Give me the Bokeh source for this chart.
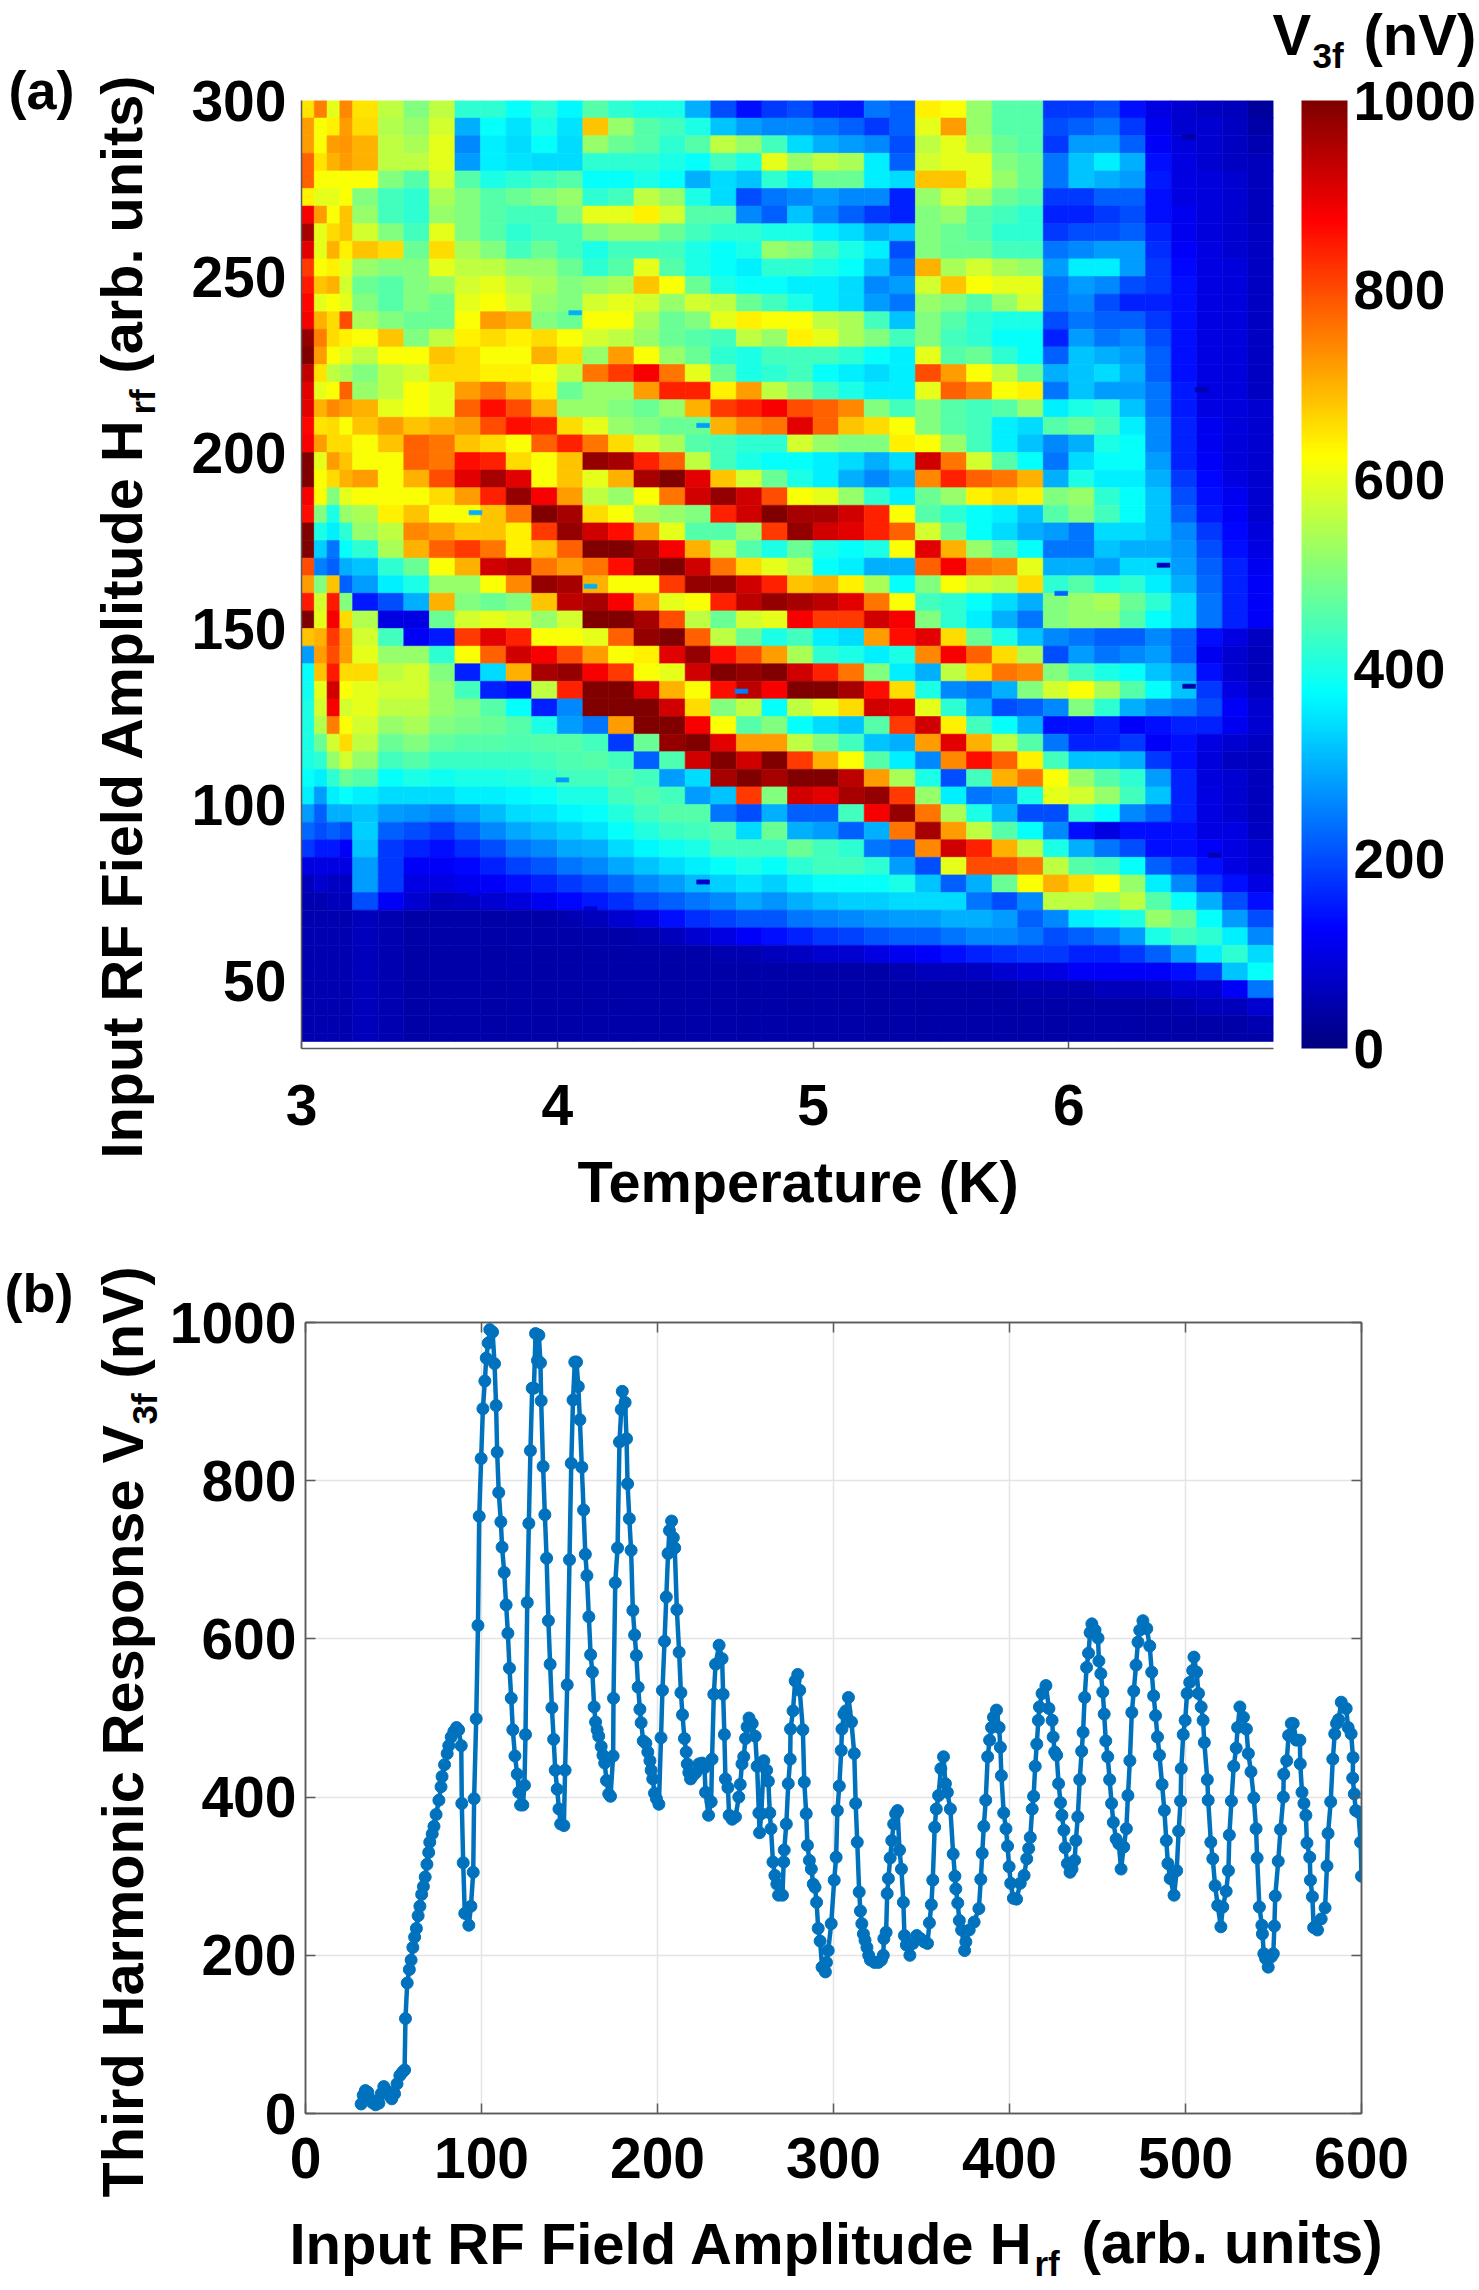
import math
from bokeh.plotting import figure
from bokeh.layouts import column, row
from bokeh.core.properties import value
from bokeh.models import (ColorBar, FixedTicker, LinearAxis, LinearColorMapper,
                          ColumnDataSource, Range1d)
from bokeh.transform import transform
from bokeh.embed import file_html
from bokeh.resources import INLINE

# ---------- panel (a): V3f in units of 10 nV, one list per temperature column,
# rows run from H = 297.5 down to H = 32.5 in the order of h_edges
t_edges = [3.0, 3.05, 3.1, 3.15, 3.2, 3.3, 3.4, 3.5, 3.6, 3.7, 3.8, 3.9, 4.0, 4.1, 4.2, 4.3, 4.4,
           4.5, 4.6, 4.7, 4.8, 4.9, 5.0, 5.1, 5.2, 5.3, 5.4, 5.5, 5.6, 5.7, 5.8, 5.9, 6.0, 6.1,
           6.2, 6.3, 6.4, 6.5, 6.6, 6.7, 6.8]
h_edges = [300, 295, 290, 285, 280, 275, 270, 265, 260, 255, 250, 245, 240, 235, 230, 225, 220, 215,
           210, 205, 200, 195, 190, 185, 180, 175, 170, 165, 160, 155, 150, 145, 140, 135, 130, 125,
           120, 115, 110, 105, 100, 95, 90, 85, 80, 75, 70, 65, 60, 55, 50, 45, 40, 35, 32.7]

v3f_columns = [
 [65,72,72,78,78,64,88,96,90,82, 85,87,88,98,100,93,90,90,87,88, 100,100,88,86,100,100,80,72,85,100, 68,28,38,39,40,40,40,40,38,36, 28,23,18,10,6,5,5,5,5,5, 5,5,5,5],
 [75,62,62,65,62,60,72,60,60,62, 68,60,70,75,72,65,60,70,65,72, 60,62,62,50,40,33,25,50,58,60, 70,72,68,60,58,55,48,42,36,28, 22,20,15,10,8,5,5,5,5,5, 5,5,5,5],
 [60,64,72,70,62,60,62,66,70,64, 70,62,66,66,62,56,62,74,66,66, 72,66,50,40,36,24,22,68,85,88, 82,80,85,92,88,75,58,52,42,36, 30,22,15,10,7,6,5,5,5,5, 5,5,5,5],
 [74,72,73,72,62,62,68,68,64,60, 58,60,80,64,60,54,78,72,62,66, 68,70,60,52,42,38,30,22,50,66, 72,72,66,62,58,62,66,58,48,38, 30,20,12,10,7,6,5,5,5,5, 5,5,5,5],
 [65,66,70,70,62,50,52,58,68,52, 48,50,54,62,56,50,52,70,68,62, 62,72,62,54,52,42,32,28,15,55, 58,60,66,60,60,58,56,52,46,36, 32,33,32,28,28,20,6,6,6,6, 6,6,6,6],
 [56,55,56,56,50,44,44,50,66,50, 46,46,50,68,62,56,56,60,72,68, 62,62,62,64,56,54,42,36,20,10, 44,52,56,58,56,52,48,44,38,34, 28,22,18,18,18,12,5,5,5,5, 5,5,5,5],
 [50,52,54,56,46,42,42,44,48,50, 50,50,48,50,62,58,62,62,68,78, 78,70,62,68,74,70,48,40,30,10, 12,52,58,58,56,54,50,46,40,34, 27,20,16,12,10,8,4,4,4,4, 4,4,4,4],
 [56,58,60,60,58,54,52,60,66,60, 52,48,48,56,68,66,60,60,70,76, 76,80,66,62,72,78,62,52,70,48, 15,42,50,52,52,50,47,43,39,34, 26,18,14,12,10,6,4,4,4,4, 4,4,4,4],
 [42,30,26,28,46,50,50,50,54,56, 58,60,62,64,66,66,72,78,72,68, 86,90,72,62,68,82,70,52,50,58, 82,62,16,44,50,49,46,43,40,36, 28,22,17,13,11,7,4,4,4,4, 4,4,4,4],
 [42,38,36,36,40,46,46,46,50,56, 60,62,72,66,62,64,76,86,80,66, 84,96,84,68,68,76,92,62,48,60, 90,78,34,16,46,48,46,43,40,36, 31,26,20,16,12,8,4,4,4,4, 4,4,4,4],
 [38,35,34,35,42,48,44,42,44,52, 56,58,70,64,62,64,70,80,86,62, 66,90,98,76,64,64,94,74,50,58, 84,92,70,14,38,46,45,43,41,37, 34,29,24,19,14,9,4,4,4,4, 4,4,4,4],
 [42,40,38,34,44,50,44,44,48,52, 54,52,50,66,70,62,64,70,84,78, 62,62,88,100,82,68,76,98,68,52, 62,88,96,56,16,40,46,44,42,38, 35,31,26,21,16,11,4,4,4,4, 4,4,4,4],
 [37,35,34,34,46,52,50,44,44,48, 50,50,48,62,66,56,48,52,66,84, 68,68,72,96,98,78,72,96,94,58, 62,80,98,84,26,28,46,45,44,40, 37,33,29,24,18,13,5,4,4,4, 4,4,4,4],
 [46,68,52,42,38,42,60,50,40,42, 52,58,62,58,52,76,52,52,60,76, 98,60,56,66,92,100,76,70,96,100, 60,72,88,100,100,24,44,46,44,40, 38,35,30,26,20,15,6,4,4,4, 4,4,4,4],
 [42,52,48,42,38,44,60,52,44,46, 54,60,62,56,72,82,52,50,52,66, 96,70,52,62,86,100,86,62,88,100, 78,62,82,100,100,72,18,44,46,44, 41,38,34,29,23,17,8,4,4,4, 4,4,4,4],
 [40,46,46,42,40,56,64,52,44,60, 68,58,54,52,62,88,72,48,50,58, 84,96,62,54,72,96,98,62,72,96, 98,64,62,90,100,100,48,22,44,46, 44,41,37,32,26,20,10,5,4,4, 4,4,4,4],
 [40,44,42,40,38,52,58,48,44,46, 62,52,48,48,52,76,84,52,48,54, 78,100,76,52,60,88,100,82,60,80, 100,90,60,70,92,100,98,45,28,44, 46,43,39,34,28,22,14,6,4,4, 4,4,4,4],
 [30,40,46,38,30,40,46,44,40,40, 48,58,50,46,48,60,84,70,48,46, 56,90,92,50,46,70,92,98,62,56, 78,98,92,62,66,88,100,92,34,28, 46,44,40,36,31,24,17,8,4,4, 4,4,4,4],
 [20,32,56,44,34,34,46,42,38,38, 40,56,60,44,42,48,64,82,70,44, 44,68,98,84,46,56,76,98,84,48, 56,86,100,86,50,62,90,100,96,32, 24,46,44,38,33,26,19,10,5,4, 4,4,4,4],
 [14,28,52,40,32,20,26,42,40,36, 38,48,64,56,40,40,72,84,74,42, 40,58,92,92,52,46,66,92,94,58, 48,80,98,94,56,46,72,92,100,82, 20,34,44,40,35,29,21,12,5,4, 4,4,4,4],
 [18,26,44,60,42,24,22,40,52,42, 38,44,62,52,44,42,56,88,76,42, 38,48,80,100,82,40,60,84,98,60, 40,72,100,88,38,50,72,100,96,50, 30,48,44,38,33,27,21,14,6,4, 4,4,4,4],
 [20,26,34,52,36,26,32,40,50,42, 36,40,62,64,44,44,50,80,90,58, 38,40,62,96,98,48,56,68,96,88, 44,54,92,100,56,38,56,82,100,92, 22,30,48,42,36,30,24,16,7,4, 4,4,4,4],
 [16,24,30,56,48,28,26,36,44,40, 36,36,56,60,44,38,44,78,78,52, 36,36,60,96,92,40,38,70,94,82, 36,42,84,100,60,34,50,70,100,90, 22,28,44,44,38,32,25,18,8,4, 4,4,4,4],
 [15,22,28,54,48,26,22,34,40,38, 34,34,54,54,42,36,40,74,68,50, 34,30,52,92,90,38,36,64,90,82, 34,40,76,96,66,32,44,62,94,96, 44,22,42,44,38,33,26,19,8,4, 4,4,4,4],
 [24,18,26,36,36,26,18,30,36,32, 26,28,44,50,38,34,36,50,66,50, 30,26,42,84,84,40,30,54,76,92, 72,36,50,86,92,46,32,46,72,98, 88,30,24,42,38,33,27,21,10,4, 4,4,4,4],
 [22,22,20,22,34,16,16,32,20,24, 28,24,32,44,36,36,36,44,62,64, 34,30,36,62,78,62,30,38,62,88, 86,40,36,66,90,82,30,36,54,82, 98,76,22,28,40,34,28,22,11,5, 4,4,4,4],
 [64,60,56,58,68,52,50,50,50,70, 58,52,50,50,60,80,60,50,50,62, 92,74,48,46,58,90,78,50,44,50, 90,74,30,40,60,92,72,26,40,52, 76,96,74,20,32,34,28,22,12,6, 4,4,4,4],
 [62,72,60,60,68,58,52,48,48,54, 68,50,46,44,46,72,78,46,46,52, 76,84,52,42,48,70,88,62,42,42, 66,88,56,26,42,64,90,74,20,36, 54,72,92,60,22,34,30,24,14,6, 4,4,4,4],
 [52,52,54,60,60,54,46,46,48,58, 62,46,42,42,48,62,74,44,44,44, 58,78,64,38,38,52,76,58,38,36, 48,78,66,24,30,44,70,86,44,24, 40,56,84,80,30,24,30,26,16,7, 4,4,4,4],
 [46,46,48,50,52,48,44,42,44,54, 60,52,40,38,42,56,62,46,36,36, 46,76,66,36,34,46,74,56,34,30, 40,66,76,30,20,38,56,78,70,26, 30,46,70,80,48,20,28,26,17,8, 4,4,4,4],
 [46,46,46,48,48,46,42,42,44,52, 60,58,40,38,38,48,64,52,34,32, 38,70,64,32,30,38,60,66,30,24, 32,54,74,50,22,30,46,64,76,40, 20,38,56,76,62,26,22,24,18,9, 5,4,4,4],
 [18,20,18,24,24,18,16,18,24,28, 24,24,20,16,22,30,24,36,46,26, 24,30,50,46,28,24,30,42,50,50, 26,20,50,58,26,14,24,44,62,60, 20,26,40,56,70,56,26,20,18,10, 5,4,4,4],
 [18,22,28,32,32,18,16,20,26,36, 28,26,24,28,32,32,32,40,48,30, 34,40,52,50,24,24,30,46,52,52, 24,28,44,62,50,14,16,32,52,58, 42,14,30,46,66,56,36,22,16,12, 5,4,4,4],
 [20,24,28,36,30,22,18,20,28,36, 26,20,22,24,30,34,28,42,44,40, 38,36,42,44,34,32,28,40,54,52, 22,24,40,54,42,16,16,32,46,52, 38,10,24,44,62,52,38,24,16,12, 6,4,4,4],
 [14,18,22,30,28,22,20,22,28,28, 20,16,22,26,28,30,28,32,36,38, 38,36,38,38,34,30,34,42,48,46, 22,26,38,46,30,12,18,30,42,44, 26,14,20,38,52,56,40,28,18,12, 6,4,4,4],
 [10,11,12,14,15,14,14,16,17,18, 18,16,18,20,22,22,24,24,26,26, 28,30,32,32,32,30,34,36,42,38, 26,28,32,38,26,14,12,18,28,32, 22,14,14,22,36,46,52,40,22,12, 7,4,4,4],
 [8,8,9,10,10,10,11,11,12,13, 14,14,14,14,14,14,15,15,16,16, 16,18,20,22,26,27,28,30,34,34, 22,22,28,32,24,16,14,14,16,16, 16,14,14,18,26,38,48,44,28,14, 8,5,4,4],
 [7,8,8,8,9,9,9,9,10,10, 10,10,10,10,10,10,10,10,11,11, 12,13,14,15,18,20,22,23,24,24, 14,11,14,18,20,16,10,9,9,10, 10,10,12,14,18,30,38,42,36,18, 8,6,4,4],
 [6,7,7,7,8,8,8,8,8,9, 9,9,9,9,9,9,9,9,9,9, 9,10,11,12,13,14,16,16,16,16, 10,8,8,10,12,11,8,7,8,8, 8,10,10,10,14,20,28,36,42,32, 12,6,4,4],
 [3,4,5,6,6,6,6,7,7,7, 7,7,7,7,7,7,7,8,8,8, 8,8,8,8,9,10,11,12,12,12, 7,6,6,7,8,8,7,6,6,6, 6,7,8,8,10,14,20,26,34,38, 24,8,5,4],
]

# isolated single-pixel dropouts seen in the map: temperature, H, V3f (10 nV)
dash_t = [4.07, 3.68, 4.57, 4.02, 4.13, 3.68, 4.13, 4.07, 4.57, 4.72, 5.97, 6.37, 6.47, 6.57, 6.47, 6.52]
dash_h = [239.7, 182.9, 207.7, 107, 162, 74.6, 70.4, 68.4, 78, 132.2, 160, 168, 133.6, 85.6, 289.6, 217.8]
dash_v = [30, 30, 28, 28, 30, 10, 8, 6, 8, 25, 22, 6, 4, 5, 4, 5]

a_xticks = [3, 4, 5, 6]
a_yticks = [50, 100, 150, 200, 250, 300]
cbar_ticks = [0, 200, 400, 600, 800, 1000]

# ---------- panel (b): H_rf, V3f read point by point
b_points = [
 (31.6,12),(32.8,23),(34,29),(35.4,27),(36.6,18.5),(37.9,14),(39.8,11),(41.7,13),(43,25),(44.5,34),(46,29),(47.5,23),
 (49,18.5),(50.6,25),(52,37.5),(53.6,48),(55,52),(56.3,55),(56.8,120),(57.8,165),(59,182),(60,194),(61,210),(62,223),
 (63,234),(64,250),(65,262),(66,277),(67,287),(68,299),(69,315),(70,330),(70.6,343),(72,353.5),(73,363),(74.2,378),
 (75.8,396),(77,413),(77.6,426),(79,441),(80.5,455),(81.4,465),(82.8,476),(84.3,483),(85.8,488),(87,485),(88.5,465),
 (88.8,392),(89.6,317),(90.5,253),(92.8,238),(94,262),(95.3,305),(95.8,398),(97,499),(98,617),(98.7,755),(99.8,828),
 (100.8,891),(101.9,926),(102.7,955),(103.8,974),(104.7,991),(106.3,988),(107.4,948),(108.3,895),(108.9,836),(109.8,785),
 (111,748),(111.7,716),(112.9,684),(114,643),(115,607),(115.9,563),(116.9,525),(117.8,485),(119,452),(120.3,429),
 (121.2,406),(122.2,390),(123.5,390),(124.4,415),(125,479),(126,646),(126.9,746),(127.8,838),(128.8,917),(129.8,917),
 (130.7,986),(131.8,952),(132.6,984),(133.5,949),(133.9,901),(135,818),(136,757),(137,702),(138,623),(139,568),(140,513),
 (141,473),(141.9,434),(143,410),(144,385),(145,366),(146.8,364),(147.5,434),(148.7,542),(150,700),(151,822),(152,902),
 (153,950),(154,950),(155,919),(155.9,877),(157,817),(158,763),(159,707),(159.9,680),(161,628),(162,580),(163,558),
 (164,514),(164.8,495),(165.7,485),(166.6,477),(168,464),(169,453),(170,443),(171,421),(172.3,404),(173.3,401),
 (174.8,452),(175,525),(176,671),(177.3,715),(178.4,849),(179.4,890),(180,913),(181.6,899),(182.4,853),(183,796),
 (184,752),(185,712),(186,636),(187,605),(188,579),(189,539),(190,511),(190.7,494),(191.9,471),(193.4,468),(194.5,457),
 (195.7,446),(196.4,434),(197.3,423),(198.3,405),(199.4,398),(200.8,391),(202,475),(202.8,535),(204,597),(205,653),
 (206,708),(206.8,737),(208,749),(209,728),(209.8,715),(211,637),(212.3,583),(213.3,532),(214.2,504),(215.3,474),
 (216.3,457),(216.9,442),(217.8,431),(218.8,423),(220,427),(221.8,431),(223.5,442),(225.4,443),(226.7,437),(227.3,406),
 (229,377),(230.5,394),(231,448),(232,530),(233,568),(235,592),(236.7,575),(237.3,530),(238,479),(238.6,423),(240,412),
 (240.7,377),(242.4,372),(244.3,375),(246.2,400),(247,416),(248,442),(249,451),(250,474),(250.9,489),(252,500),
 (253.8,493),(255.5,477),(256.6,439),(257.6,380),(258,355),(259,379),(260.4,446),(262,434),(263,420),(263.8,380),
 (264.5,360),(265.6,318),(266.7,301),(267.8,290),(268.8,276),(271,276),(271.7,318),(272,333),(273.2,366),(274.3,417),
 (275.4,448),(275.6,486),(277,509),(278.2,547),(279.7,555),(280.8,535),(282.6,485),(283.4,419),(284.5,379),(285.2,339),
 (286.3,320),(287.4,309),(288.5,290),(289.5,286),(290.4,267),(291.3,234),(292.4,218),(293.5,185),(295.4,179),(296,191),
 (297,206),(298.7,240),(300.4,295),(301.5,324),(302.2,383),(303.3,414),(304.4,459),(304.8,486),(305.9,505),(307,509),
 (308.5,526),(310.2,495),(311.8,455),(312.6,392),(313.5,343),(314.6,280),(315.3,256),(316.1,240),(317,227),(317.9,219),
 (319,210),(320,200),(321,194),(323.3,191),(325.5,191),(327.2,194),(328.3,200),(328.6,221),(329.9,229),(330.5,278),
 (331.2,297),(332.2,323),(333.1,345),(334.2,366),(335.3,379),(336.4,383),(337.5,333),(338.6,309),(339.7,267),(340.3,225),
 (341.4,213),(343.4,200),(345.1,215),(347.3,225),(349.5,221),(351.6,217),(353.4,215),(354.5,241),(355.6,264),(356.4,295),
 (357.5,362),(358.4,385),(359.7,402),(361,436),(362.5,451),(363.6,417),(364.7,406),(366.4,385),(368,328),(369,300),
 (369.5,284),(370.6,266),(371.5,244),(372.8,232),(374.5,206),(375.2,217),(377.1,232),(379.9,242),(382.6,259),(383.7,296),
 (384.5,329),(385.4,363),(386.5,396),(387.6,451),(388.7,472),(389.8,488),(390.9,501),(392.6,510),(394.1,488),(394.8,463),
 (395.4,427),(396.7,380),(398,360),(398.9,338),(399.8,312),(400.7,291),(402.2,272),(404,271),(406.1,291),(408.3,301),
 (409.8,322),(410.9,335),(411.8,349),(412.9,385),(413.7,401),(414.6,439),(415.5,467),(416.4,497),(417,514),(418.5,531),
 (420.7,541),(422.4,512),(424.2,497),(424.8,476),(425.7,457),(426.8,453),(427.9,417),(429,393),(429.8,377),(430.9,358),
 (431.6,336),(432.9,316),(434.4,305),(435.5,309),(437,320),(437.7,345),(438.8,375),(439.9,422),(441,458),(441.8,482),
 (442.7,526),(443.8,564),(444.9,582),(445.8,608),(446.8,619),(448.6,611),(450.3,601),(450.8,572),(451.9,556),(453,533),
 (453.8,505),(454.7,471),(455.8,451),(456.9,422),(458,392),(459,368),(460.6,347),(462.1,341),(463.4,309),(464.9,337),
 (466.4,360),(467.3,402),(468.4,446),(469.5,507),(470.6,534),(471.9,567),(473,596),(474,611),(475.8,623),(478,613),
 (479.7,591),(480.8,558),(481.9,528),(483,503),(484.1,476),(485.2,453),(486.7,416),(488,383),(489.1,345),(490,316),
 (491.3,297),(493.5,276),(495,307),(496.1,357),(497.2,395),(497.6,436),(498.7,479),(499.8,497),(500.9,531),(502.4,545),
 (504.1,560),(504.8,577),(506.3,558),(507.4,531),(508.9,514),(510,497),(510.7,469),(512.4,422),(512.9,396),(514.4,343),
 (515.5,322),(516.8,288),(518.3,263),(520.1,236),(521.2,261),(523.1,281),(524.4,307),(524.9,352),(526.1,395),(527.4,439),
 (528.8,462),(529.6,488),(530.9,514),(532.9,501),(534.6,486),(535.7,455),(537.2,432),(538.8,399),(540.1,360),(540.7,323),
 (542,261),(543.4,238),(543.7,227),(544.5,202),(545.5,196),(547,185),(548.8,198),(549.9,202),(550.5,237),(551,275),
 (552.7,319),(554,359),(555.6,400),(555.8,429),(557.5,446),(558.6,478),(560.1,493),(561.2,493),(563,472),(565,472),
 (565.2,442),(566.2,406),(567.3,392),(568.4,377),(569,342),(570.6,324),(571,295),(572.1,274),(572.8,235),(575,232),
 (577.1,246),(579.3,260),(580.4,313),(581,354),(582.5,394),(583.7,448),(584.8,480),(585.8,493),(587,498),(588.5,520),
 (591.3,512),(592.4,488),(594.1,480),(595.2,450),(595,424),(595.9,404),(596.7,383),(598.2,381),(599.5,343),(600,300),
]
hrf_values = [q[0] for q in b_points]
v3f_values = [q[1] for q in b_points]
b_xticks = [0, 100, 200, 300, 400, 500, 600]
b_yticks = [0, 200, 400, 600, 800, 1000]

# ---------- styling helpers
FONT = "Liberation Sans"
TICK_SIZE = "57px"
GRAY = "#5a5a5a"
PAGE_W = 1479
BASELINE_SHIFT = 0.37  # the SVG backend sets "alphabetic" text this far (in em) past the anchor


def jet_palette(n=256):
    out = []
    for i in range(n):
        v = i / (n - 1)
        r = min(max(min(4 * v - 1.5, -4 * v + 4.5), 0), 1)
        g = min(max(min(4 * v - 0.5, -4 * v + 3.5), 0), 1)
        b = min(max(min(4 * v + 0.5, -4 * v + 2.5), 0), 1)
        out.append("#%02x%02x%02x" % (round(r * 255), round(g * 255), round(b * 255)))
    return out


def page_label(p, box, text, px, py, size, angle=0.0):
    # box = (frame left, frame top, frame bottom, frame right) on the page.
    # Drawn as an overlay-level text glyph: it is not clipped to the frame.
    L, T, B, R = box
    if angle:
        px -= BASELINE_SHIFT * size
    else:
        py -= BASELINE_SHIFT * size
    xr, yr = p.x_range, p.y_range
    x = xr.start + (px - L) / (R - L) * (xr.end - xr.start)
    y = yr.start + (B - py) / (B - T) * (yr.end - yr.start)
    p.text(x=[x], y=[y], text=[text], text_font=value(FONT), text_font_style="bold",
           text_font_size=f"{size}px", text_color="black", angle=angle,
           text_baseline="alphabetic", text_align="left", level="overlay")


# ---------- panel (a)
A_L, A_T, A_B, A_R = 301, 100, 1048, 1273
A_H = 1240
left, right, top, bottom, vals = [], [], [], [], []
for i, col in enumerate(v3f_columns):
    assert len(col) == len(h_edges) - 1, (i, len(col))
    for j, v in enumerate(col):
        left.append(t_edges[i]); right.append(t_edges[i + 1])
        top.append(h_edges[j]); bottom.append(h_edges[j + 1])
        vals.append(v * 10)
assert len(v3f_columns) == len(t_edges) - 1
for t, h, v in zip(dash_t, dash_h, dash_v):
    left.append(t - 0.025); right.append(t + 0.025)
    top.append(h + 0.6); bottom.append(h - 0.6)
    vals.append(v * 10)
src = ColumnDataSource(dict(left=left, right=right, top=top, bottom=bottom, v=vals))
mapper = LinearColorMapper(palette=jet_palette(), low=0, high=1000)

p1 = figure(width=PAGE_W, height=A_H, frame_width=A_R - A_L, frame_height=A_B - A_T,
            min_border_left=A_L, min_border_right=PAGE_W - A_R, min_border_top=A_T,
            min_border_bottom=A_H - A_B,
            x_range=Range1d(3, 6.8), y_range=Range1d(30.7, 300),
            toolbar_location=None, output_backend="svg", outline_line_color=None)
p1.quad(left="left", right="right", top="top", bottom="bottom", source=src,
        fill_color=transform("v", mapper), line_color=transform("v", mapper), line_width=0.6)
p1.grid.visible = False
p1.xaxis.ticker = FixedTicker(ticks=a_xticks)
p1.yaxis.ticker = FixedTicker(ticks=a_yticks)
for ax in (p1.xaxis[0], p1.yaxis[0]):
    ax.major_label_text_font = FONT
    ax.major_label_text_font_style = "bold"
    ax.major_label_text_font_size = TICK_SIZE
    ax.major_label_text_color = "black"
    ax.minor_tick_line_color = None
    ax.axis_line_color = GRAY
    ax.axis_line_width = 1.5
    ax.major_tick_line_color = GRAY
    ax.major_tick_line_width = 1.5
p1.xaxis.major_tick_in = 7
p1.xaxis.major_tick_out = 0
p1.xaxis.major_label_standoff = 36
p1.yaxis.major_tick_in = 0
p1.yaxis.major_tick_out = 0
p1.yaxis.major_label_standoff = 15

cbar = ColorBar(color_mapper=mapper, ticker=FixedTicker(ticks=cbar_ticks), location=(1301 - A_L, 0),
                width=46, height=A_B - A_T, padding=0, margin=0, background_fill_color=None,
                major_tick_line_color=None, minor_tick_line_color=None, bar_line_color=None,
                major_label_text_font=FONT, major_label_text_font_style="bold",
                major_label_text_font_size="55px", major_label_text_color="black", label_standoff=6)
p1.add_layout(cbar)

R90 = math.pi / 2
box_a = (A_L, A_T, A_B, A_R)
page_label(p1, box_a, "(a)", 8, 109, 54)
page_label(p1, box_a, "V", 1272, 55, 58)
page_label(p1, box_a, "3f", 1312, 68, 35)
page_label(p1, box_a, "(nV)", 1363, 55, 58)
page_label(p1, box_a, "Input RF Field Amplitude H", 143, 1158, 57.7, R90)
page_label(p1, box_a, "rf", 155, 414, 35, R90)
page_label(p1, box_a, "(arb. units)", 143, 373, 57.7, R90)
page_label(p1, box_a, "Temperature (K)", 577, 1203, 57.7)

# ---------- panel (b)
B_TOP = A_H
B_HEIGHT = 1050
B_L, B_T, B_B, B_R = 305, 1322, 2113, 1361
p2 = figure(width=PAGE_W, height=B_HEIGHT, frame_width=B_R - B_L, frame_height=B_B - B_T,
            min_border_left=B_L, min_border_right=PAGE_W - B_R, min_border_top=B_T - B_TOP,
            min_border_bottom=B_TOP + B_HEIGHT - B_B,
            x_range=Range1d(0, 600), y_range=Range1d(0, 1000),
            toolbar_location=None, output_backend="svg",
            outline_line_color=GRAY, outline_line_width=1.5)
p2.xgrid.ticker = FixedTicker(ticks=b_xticks)
p2.ygrid.ticker = FixedTicker(ticks=b_yticks)
p2.grid.grid_line_color = "#e4e4e4"
p2.grid.grid_line_width = 1.5
p2.line(hrf_values, v3f_values, line_color="#0072BD", line_width=4.5)
p2.scatter(hrf_values, v3f_values, size=12, fill_color="#0072BD", line_color="#0072BD")

p2.xaxis.ticker = FixedTicker(ticks=b_xticks)
p2.yaxis.ticker = FixedTicker(ticks=b_yticks)
for ax in (p2.xaxis[0], p2.yaxis[0]):
    ax.major_label_text_font = FONT
    ax.major_label_text_font_style = "bold"
    ax.major_label_text_font_size = TICK_SIZE
    ax.major_label_text_color = "black"
    ax.minor_tick_line_color = None
    ax.axis_line_color = GRAY
    ax.axis_line_width = 1.5
    ax.major_tick_line_color = GRAY
    ax.major_tick_line_width = 1.5
    ax.major_tick_in = 10
    ax.major_tick_out = 0
p2.xaxis.major_label_standoff = 24
p2.yaxis.major_label_standoff = 9

for side, ticks in (("above", b_xticks), ("right", b_yticks)):
    ax = LinearAxis(ticker=FixedTicker(ticks=ticks), major_label_overrides={t: "" for t in ticks},
                    major_label_standoff=0, axis_line_color=GRAY, axis_line_width=1.5,
                    major_tick_line_color=GRAY, major_tick_line_width=1.5, major_tick_in=10,
                    major_tick_out=0, minor_tick_line_color=None)
    p2.add_layout(ax, side)

box_b = (B_L, B_T, B_B, B_R)
page_label(p2, box_b, "(b)", 4, 1312, 54)
page_label(p2, box_b, "Third Harmonic Response V", 144, 2197, 57.7, R90)
page_label(p2, box_b, "3f", 157, 1424, 35, R90)
page_label(p2, box_b, "(nV)", 144, 1378, 57.7, R90)
page_label(p2, box_b, "Input RF Field Amplitude H", 289, 2264, 58)
page_label(p2, box_b, "rf", 1034, 2276, 35)
page_label(p2, box_b, "(arb. units)", 1081, 2264, 58.3)

layout = column(row(p1), row(p2), spacing=0)
open("out.html", "w").write(file_html(layout, INLINE))
